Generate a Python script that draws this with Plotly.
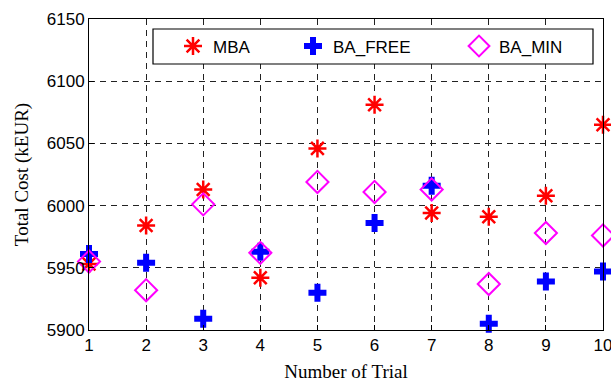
import plotly.graph_objects as go

trials = [1, 2, 3, 4, 5, 6, 7, 8, 9, 10]
mba = [5953, 5984, 6013, 5942, 6046, 6081, 5994, 5991, 6008, 6065]
ba_free = [5961, 5954, 5909, 5963, 5930, 5986, 6016, 5905, 5939, 5947]
ba_min = [5955, 5932, 6001, 5962, 6019, 6011, 6013, 5937, 5978, 5976]

W, H = 611, 382
L, R, T, B = 89, 8, 19, 52
pw, ph = W - L - R, H - T - B

def px(x):
    return (x - L) / pw

def py(y):
    return (H - B - y) / ph

fig = go.Figure()
fig.add_trace(go.Scatter(x=trials, y=mba, mode="markers", name="MBA",
                         marker=dict(symbol="asterisk-open", size=15, color="red",
                                     line=dict(color="red", width=2.5)),
                         cliponaxis=False, legend="legend"))
fig.add_trace(go.Scatter(x=trials, y=ba_free, mode="markers", name="BA_FREE",
                         marker=dict(symbol="cross", size=15, color="blue",
                                     line=dict(width=0)),
                         cliponaxis=False, legend="legend2"))
fig.add_trace(go.Scatter(x=trials, y=ba_min, mode="markers", name="BA_MIN",
                         marker=dict(symbol="diamond-open", size=17, color="magenta",
                                     line=dict(color="magenta", width=2)),
                         cliponaxis=False, legend="legend3"))

axis_common = dict(showline=True, linecolor="black", linewidth=1, mirror=True,
                   showgrid=True, gridcolor="#222222", griddash="6px,5px", gridwidth=1,
                   zeroline=False, ticks="inside", ticklen=5, tickcolor="black",
                   ticklabeloverflow="allow", automargin=False,
                   tickfont=dict(family="Liberation Sans, Arial", size=17, color="black"))

fig.update_xaxes(range=[1, 10], tickmode="array", tickvals=trials,
                 title=dict(text="Number of Trial", standoff=10,
                            font=dict(family="Liberation Serif, Times New Roman", size=19, color="black")),
                 **axis_common)
fig.update_yaxes(range=[5900, 6150], tickmode="array",
                 tickvals=[5900, 5950, 6000, 6050, 6100, 6150],
                 title=dict(text="Total Cost (kEUR)", standoff=13,
                            font=dict(family="Liberation Serif, Times New Roman", size=19, color="black")),
                 **axis_common)

leg_common = dict(orientation="h", bgcolor="rgba(0,0,0,0)", borderwidth=0,
                  xanchor="left", yanchor="middle", y=py(46.5), visible=True,
                  font=dict(family="Liberation Sans, Arial", size=17, color="black"))

fig.update_layout(
    width=W, height=H,
    margin=dict(l=L, r=R, t=T, b=B, autoexpand=False),
    plot_bgcolor="white", paper_bgcolor="white",
    showlegend=True,
    legend=dict(x=px(173), **leg_common),
    legend2=dict(x=px(293), **leg_common),
    legend3=dict(x=px(459), **leg_common),
    shapes=[dict(type="rect", xref="paper", yref="paper",
                 x0=px(153), x1=px(593), y0=py(64), y1=py(29),
                 fillcolor="white", line=dict(color="black", width=1.2),
                 layer="above")],
)

fig.write_html("out.html", config={"displayModeBar": False},
               post_script="document.body.style.margin='0';document.body.style.overflow='hidden';")
